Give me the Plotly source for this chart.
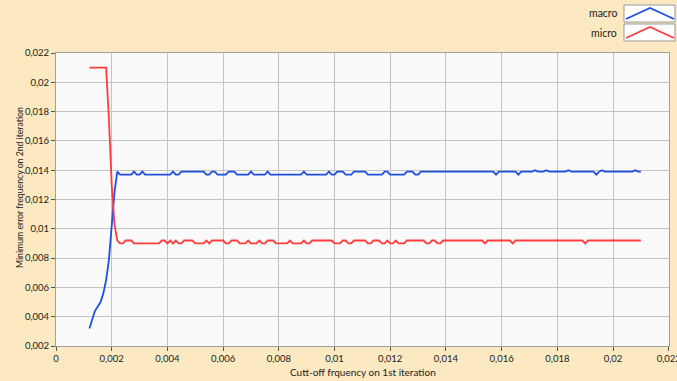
import plotly.graph_objects as go

cutoff = [
    0.0012, 0.0013, 0.0014, 0.0015, 0.0016, 0.0017, 0.0018, 0.0019, 0.0020, 0.0021,
    0.0022, 0.0023, 0.0024, 0.0025, 0.0026, 0.0027, 0.0028, 0.0029, 0.0030, 0.0031,
    0.0032, 0.0033, 0.0034, 0.0035, 0.0036, 0.0037, 0.0038, 0.0039, 0.0040, 0.0041,
    0.0042, 0.0043, 0.0044, 0.0045, 0.0046, 0.0047, 0.0048, 0.0049, 0.0050, 0.0051,
    0.0052, 0.0053, 0.0054, 0.0055, 0.0056, 0.0057, 0.0058, 0.0059, 0.0060, 0.0061,
    0.0062, 0.0063, 0.0064, 0.0065, 0.0066, 0.0067, 0.0068, 0.0069, 0.0070, 0.0071,
    0.0072, 0.0073, 0.0074, 0.0075, 0.0076, 0.0077, 0.0078, 0.0079, 0.0080, 0.0081,
    0.0082, 0.0083, 0.0084, 0.0085, 0.0086, 0.0087, 0.0088, 0.0089, 0.0090, 0.0091,
    0.0092, 0.0093, 0.0094, 0.0095, 0.0096, 0.0097, 0.0098, 0.0099, 0.0100, 0.0101,
    0.0102, 0.0103, 0.0104, 0.0105, 0.0106, 0.0107, 0.0108, 0.0109, 0.0110, 0.0111,
    0.0112, 0.0113, 0.0114, 0.0115, 0.0116, 0.0117, 0.0118, 0.0119, 0.0120, 0.0121,
    0.0122, 0.0123, 0.0124, 0.0125, 0.0126, 0.0127, 0.0128, 0.0129, 0.0130, 0.0131,
    0.0132, 0.0133, 0.0134, 0.0135, 0.0136, 0.0137, 0.0138, 0.0139, 0.0140, 0.0141,
    0.0142, 0.0143, 0.0144, 0.0145, 0.0146, 0.0147, 0.0148, 0.0149, 0.0150, 0.0151,
    0.0152, 0.0153, 0.0154, 0.0155, 0.0156, 0.0157, 0.0158, 0.0159, 0.0160, 0.0161,
    0.0162, 0.0163, 0.0164, 0.0165, 0.0166, 0.0167, 0.0168, 0.0169, 0.0170, 0.0171,
    0.0172, 0.0173, 0.0174, 0.0175, 0.0176, 0.0177, 0.0178, 0.0179, 0.0180, 0.0181,
    0.0182, 0.0183, 0.0184, 0.0185, 0.0186, 0.0187, 0.0188, 0.0189, 0.0190, 0.0191,
    0.0192, 0.0193, 0.0194, 0.0195, 0.0196, 0.0197, 0.0198, 0.0199, 0.0200, 0.0201,
    0.0202, 0.0203, 0.0204, 0.0205, 0.0206, 0.0207, 0.0208, 0.0209, 0.0210,
]

macro = [
    0.0032, 0.0038, 0.0044, 0.0047, 0.0050, 0.0056, 0.0065, 0.0079, 0.0102, 0.0125,
    0.0139, 0.0137, 0.0137, 0.0137, 0.0137, 0.0137, 0.0139, 0.0137, 0.0137, 0.0139,
    0.0137, 0.0137, 0.0137, 0.0137, 0.0137, 0.0137, 0.0137, 0.0137, 0.0137, 0.0137,
    0.0139, 0.0137, 0.0137, 0.0139, 0.0139, 0.0139, 0.0139, 0.0139, 0.0139, 0.0139,
    0.0139, 0.0139, 0.0137, 0.0137, 0.0139, 0.0139, 0.0137, 0.0137, 0.0137, 0.0137,
    0.0139, 0.0139, 0.0139, 0.0137, 0.0137, 0.0137, 0.0137, 0.0137, 0.0139, 0.0137,
    0.0137, 0.0137, 0.0137, 0.0137, 0.0139, 0.0137, 0.0137, 0.0137, 0.0137, 0.0137,
    0.0137, 0.0137, 0.0137, 0.0137, 0.0137, 0.0137, 0.0137, 0.0139, 0.0137, 0.0137,
    0.0137, 0.0137, 0.0137, 0.0137, 0.0137, 0.0137, 0.0139, 0.0137, 0.0137, 0.0139,
    0.0139, 0.0139, 0.0137, 0.0137, 0.0137, 0.0139, 0.0139, 0.0139, 0.0139, 0.0139,
    0.0137, 0.0137, 0.0137, 0.0137, 0.0137, 0.0137, 0.0139, 0.0139, 0.0137, 0.0137,
    0.0137, 0.0137, 0.0137, 0.0137, 0.0139, 0.0139, 0.0139, 0.0137, 0.0137, 0.0139,
    0.0139, 0.0139, 0.0139, 0.0139, 0.0139, 0.0139, 0.0139, 0.0139, 0.0139, 0.0139,
    0.0139, 0.0139, 0.0139, 0.0139, 0.0139, 0.0139, 0.0139, 0.0139, 0.0139, 0.0139,
    0.0139, 0.0139, 0.0139, 0.0139, 0.0139, 0.0139, 0.0137, 0.0139, 0.0139, 0.0139,
    0.0139, 0.0139, 0.0139, 0.0139, 0.0137, 0.0139, 0.0139, 0.0139, 0.0139, 0.0139,
    0.0140, 0.0139, 0.0139, 0.0139, 0.0140, 0.0139, 0.0139, 0.0139, 0.0139, 0.0139,
    0.0139, 0.0139, 0.0140, 0.0139, 0.0139, 0.0139, 0.0139, 0.0139, 0.0139, 0.0139,
    0.0139, 0.0139, 0.0137, 0.0139, 0.0140, 0.0139, 0.0139, 0.0139, 0.0139, 0.0139,
    0.0139, 0.0139, 0.0139, 0.0139, 0.0139, 0.0139, 0.0140, 0.0139, 0.0139,
]

micro = [
    0.0210, 0.0210, 0.0210, 0.0210, 0.0210, 0.0210, 0.0210, 0.0175, 0.0130, 0.0103,
    0.0092, 0.0090, 0.0090, 0.0092, 0.0092, 0.0092, 0.0090, 0.0090, 0.0090, 0.0090,
    0.0090, 0.0090, 0.0090, 0.0090, 0.0090, 0.0090, 0.0092, 0.0092, 0.0090, 0.0092,
    0.0090, 0.0092, 0.0090, 0.0090, 0.0092, 0.0092, 0.0092, 0.0092, 0.0090, 0.0090,
    0.0090, 0.0090, 0.0092, 0.0090, 0.0092, 0.0092, 0.0092, 0.0092, 0.0092, 0.0090,
    0.0090, 0.0092, 0.0092, 0.0092, 0.0090, 0.0090, 0.0090, 0.0092, 0.0090, 0.0090,
    0.0090, 0.0092, 0.0090, 0.0090, 0.0092, 0.0092, 0.0092, 0.0090, 0.0090, 0.0090,
    0.0090, 0.0090, 0.0092, 0.0090, 0.0090, 0.0090, 0.0090, 0.0092, 0.0090, 0.0090,
    0.0092, 0.0092, 0.0092, 0.0092, 0.0092, 0.0092, 0.0092, 0.0092, 0.0090, 0.0090,
    0.0090, 0.0092, 0.0092, 0.0090, 0.0090, 0.0092, 0.0092, 0.0092, 0.0092, 0.0092,
    0.0090, 0.0090, 0.0092, 0.0092, 0.0092, 0.0090, 0.0090, 0.0092, 0.0090, 0.0090,
    0.0092, 0.0090, 0.0090, 0.0090, 0.0092, 0.0092, 0.0092, 0.0092, 0.0092, 0.0092,
    0.0092, 0.0090, 0.0090, 0.0092, 0.0092, 0.0090, 0.0090, 0.0092, 0.0092, 0.0092,
    0.0092, 0.0092, 0.0092, 0.0092, 0.0092, 0.0092, 0.0092, 0.0092, 0.0092, 0.0092,
    0.0092, 0.0092, 0.0090, 0.0092, 0.0092, 0.0092, 0.0092, 0.0092, 0.0092, 0.0092,
    0.0092, 0.0092, 0.0090, 0.0092, 0.0092, 0.0092, 0.0092, 0.0092, 0.0092, 0.0092,
    0.0092, 0.0092, 0.0092, 0.0092, 0.0092, 0.0092, 0.0092, 0.0092, 0.0092, 0.0092,
    0.0092, 0.0092, 0.0092, 0.0092, 0.0092, 0.0092, 0.0092, 0.0092, 0.0090, 0.0092,
    0.0092, 0.0092, 0.0092, 0.0092, 0.0092, 0.0092, 0.0092, 0.0092, 0.0092, 0.0092,
    0.0092, 0.0092, 0.0092, 0.0092, 0.0092, 0.0092, 0.0092, 0.0092, 0.0092,
]

x_ticks = [0, 0.002, 0.004, 0.006, 0.008, 0.01, 0.012, 0.014, 0.016, 0.018, 0.02, 0.022]
x_tick_labels = ["0", "0,002", "0,004", "0,006", "0,008", "0,01", "0,012",
                 "0,014", "0,016", "0,018", "0,02", "0,022"]
y_ticks = [0.002, 0.004, 0.006, 0.008, 0.01, 0.012, 0.014, 0.016, 0.018, 0.02, 0.022]
y_tick_labels = ["0,002", "0,004", "0,006", "0,008", "0,01", "0,012",
                 "0,014", "0,016", "0,018", "0,02", "0,022"]
legend_names = ["macro", "micro"]
x_title = "Cutt-off frquency on 1st iteration"
y_title = "Minimum error frequency on 2nd iteration"

BLUE = "#1f4fe0"
RED = "#ff3c3c"
BEIGE = "#fce9c1"
FONT = "Lato"
TXT = "#222222"

W, H = 677, 381
ML, MR, MT, MB = 56, 8, 53, 35
PW, PH = W - ML - MR, H - MT - MB


def px_x(px):
    return (px - ML) / PW


def px_y(py):
    return (H - MB - py) / PH


fig = go.Figure()
fig.add_trace(go.Scatter(x=cutoff, y=macro, mode="lines", name=legend_names[0],
                         line=dict(color=BLUE, width=1.8)))
fig.add_trace(go.Scatter(x=cutoff, y=micro, mode="lines", name=legend_names[1],
                         line=dict(color=RED, width=1.8)))

axis_common = dict(
    showgrid=True, gridcolor="#c4c4c4", gridwidth=1,
    showline=True, linecolor="#a0a0a0", linewidth=1, mirror=True,
    ticks="outside", ticklen=4, tickcolor="#555555",
    tickfont=dict(family=FONT, size=9.5, color=TXT),
    zeroline=False, automargin=False, ticklabeloverflow="allow",
)

fig.update_layout(
    width=W, height=H,
    margin=dict(l=ML, r=MR, t=MT, b=MB, autoexpand=False),
    paper_bgcolor=BEIGE,
    plot_bgcolor="#fafafa",
    font=dict(family=FONT, size=10, color=TXT),
    showlegend=False,
    xaxis=dict(range=[0, 0.02201], tickvals=x_ticks, ticktext=x_tick_labels,
               **axis_common),
    yaxis=dict(range=[0.002, 0.022], tickvals=y_ticks, ticktext=y_tick_labels,
               **axis_common),
)

# axis titles
fig.add_annotation(text=x_title, xref="paper", yref="paper",
                   x=0.5, y=px_y(372), xanchor="center", yanchor="middle",
                   showarrow=False, font=dict(family=FONT, size=10, color=TXT))
fig.add_annotation(text=y_title, xref="paper", yref="paper", textangle=-90,
                   x=px_x(19), y=px_y(188), xanchor="center", yanchor="middle",
                   showarrow=False, font=dict(family=FONT, size=8.7, color=TXT))

# Legend (text on the left of each swatch, as in the reference)
for k, (nm, col) in enumerate(zip(legend_names, [BLUE, RED])):
    top_px = 5 + 19 * k
    bot_px = 22 + 19 * k
    x0, x1 = px_x(624), px_x(675)
    y0, y1 = px_y(bot_px), px_y(top_px)
    fig.add_shape(type="rect", xref="paper", yref="paper",
                  x0=x0, x1=x1, y0=y0, y1=y1,
                  fillcolor="white", line=dict(color="#9a9a9a", width=1),
                  layer="above")
    fig.add_shape(type="path", xref="paper", yref="paper",
                  path=(f"M {px_x(626)},{px_y(bot_px - 3)} "
                        f"L {px_x(650)},{px_y(top_px + 3)} "
                        f"L {px_x(674)},{px_y(bot_px - 3)}"),
                  line=dict(color=col, width=1.8), layer="above")
    fig.add_annotation(text=nm, xref="paper", yref="paper",
                       x=px_x(619), y=(y0 + y1) / 2, xanchor="right", yanchor="middle",
                       showarrow=False, font=dict(family=FONT, size=10.5, color=TXT))

fig.write_html(
    "out.html",
    config={"displayModeBar": False},
    post_script=("document.body.style.margin='0';"
                 "document.body.style.background='" + BEIGE + "';"
                 "document.body.style.overflow='hidden';"),
)
